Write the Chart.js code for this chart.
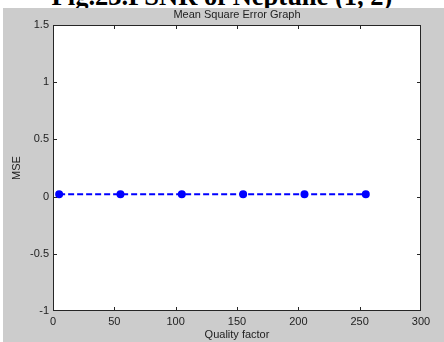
<!DOCTYPE html>
<html>
<head>
<meta charset="utf-8">
<script src="https://cdn.jsdelivr.net/npm/chart.js@4.4.0/dist/chart.umd.min.js"></script>
<style>
  body { margin: 0; width: 444px; height: 342px; background: #fff; position: relative; overflow: hidden; }
  #fig { position: absolute; left: 0; width: 444px; top: -17px; text-align: center; white-space: nowrap;
         font: bold 26.5px "Liberation Serif", "Times New Roman", serif; line-height: 26px; color: #000; }
  #box { position: absolute; left: 3px; top: 8px; width: 441px; height: 334px; background: #cccccc; }
</style>
</head>
<body>
<div id="fig">Fig.23.PSNR of Neptune (1, 2)</div>
<div id="box"><canvas id="mseChart" width="441" height="334"></canvas></div>
<script>
// Quality factor vs MSE
const qualityFactors = [5, 55, 105, 155, 205, 255];
const mseValues = [0.02, 0.02, 0.02, 0.02, 0.02, 0.02];
const xTicks = [0, 50, 100, 150, 200, 250, 300];
const yTicks = [-1, -0.5, 0, 0.5, 1, 1.5];
const chartTitle = 'Mean Square Error Graph';

const ctx = document.getElementById('mseChart').getContext('2d');
const fontFamily = 'Arial, "Liberation Sans", sans-serif';
const tickFont = { family: fontFamily, size: 11 };

// white axes area, black box, inward ticks and title centred over the axes (matlab style)
const matlabAxes = {
    id: 'matlabAxes',
    beforeDraw(chart) {
        const a = chart.chartArea;
        const c = chart.ctx;
        c.save();
        c.fillStyle = '#ffffff';
        c.fillRect(a.left, a.top, a.right - a.left, a.bottom - a.top);
        c.restore();
    },
    afterDraw(chart) {
        const a = chart.chartArea;
        const c = chart.ctx;
        const xs = chart.scales.x, ys = chart.scales.y;
        c.save();
        c.strokeStyle = '#262626';
        c.lineWidth = 1;
        c.strokeRect(a.left + 0.5, a.top + 0.5, a.right - a.left - 1, a.bottom - a.top - 1);
        c.beginPath();
        xTicks.slice(1, -1).forEach(v => {
            const px = Math.round(xs.getPixelForValue(v)) + 0.5;
            c.moveTo(px, a.bottom); c.lineTo(px, a.bottom - 4);
            c.moveTo(px, a.top); c.lineTo(px, a.top + 4);
        });
        yTicks.slice(1, -1).forEach(v => {
            const py = Math.round(ys.getPixelForValue(v)) + 0.5;
            c.moveTo(a.left, py); c.lineTo(a.left + 4, py);
            c.moveTo(a.right, py); c.lineTo(a.right - 4, py);
        });
        c.stroke();

        // axes title
        c.fillStyle = '#222';
        c.font = '11px ' + fontFamily;
        c.textAlign = 'center';
        c.textBaseline = 'middle';
        c.fillText(chartTitle, (a.left + a.right) / 2, a.top - 10);
        c.restore();
    }
};

const mseChart = new Chart(ctx, {
    type: 'scatter',
    data: {
        datasets: [{
            label: 'MSE',
            data: qualityFactors.map((q, i) => ({ x: q, y: mseValues[i] })),
            showLine: true,
            borderColor: '#0000ff',
            backgroundColor: '#0000ff',
            borderWidth: 2,
            borderDash: [6, 3],
            pointRadius: 3,
            pointHoverRadius: 3,
            fill: false
        }]
    },
    options: {
        responsive: false,
        animation: false,
        layout: { padding: { left: 0, right: 23, top: 17, bottom: 0 } },
        plugins: {
            legend: { display: false },
            tooltip: { enabled: false },
            title: { display: false }
        },
        scales: {
            x: {
                type: 'linear',
                min: 0,
                max: 300,
                afterBuildTicks: s => { s.ticks = xTicks.map(v => ({ value: v })); },
                afterFit: s => { s.height = 31; },
                grid: { display: false, drawTicks: false },
                border: { display: false },
                ticks: { color: '#222', font: tickFont, padding: 4, maxRotation: 0, callback: v => String(v) },
                title: { display: true, text: 'Quality factor', color: '#222', font: tickFont, padding: { top: 0, bottom: 0 } }
            },
            y: {
                type: 'linear',
                min: -1,
                max: 1.5,
                afterBuildTicks: s => { s.ticks = yTicks.map(v => ({ value: v })); },
                afterFit: s => { s.width = 50; },
                grid: { display: false, drawTicks: false },
                border: { display: false },
                ticks: { color: '#222', font: tickFont, padding: 4, callback: v => String(v) },
                title: { display: true, text: 'MSE', color: '#222', font: tickFont, padding: { top: 7, bottom: 0 } }
            }
        }
    },
    plugins: [matlabAxes]
});
</script>
</body>
</html>
